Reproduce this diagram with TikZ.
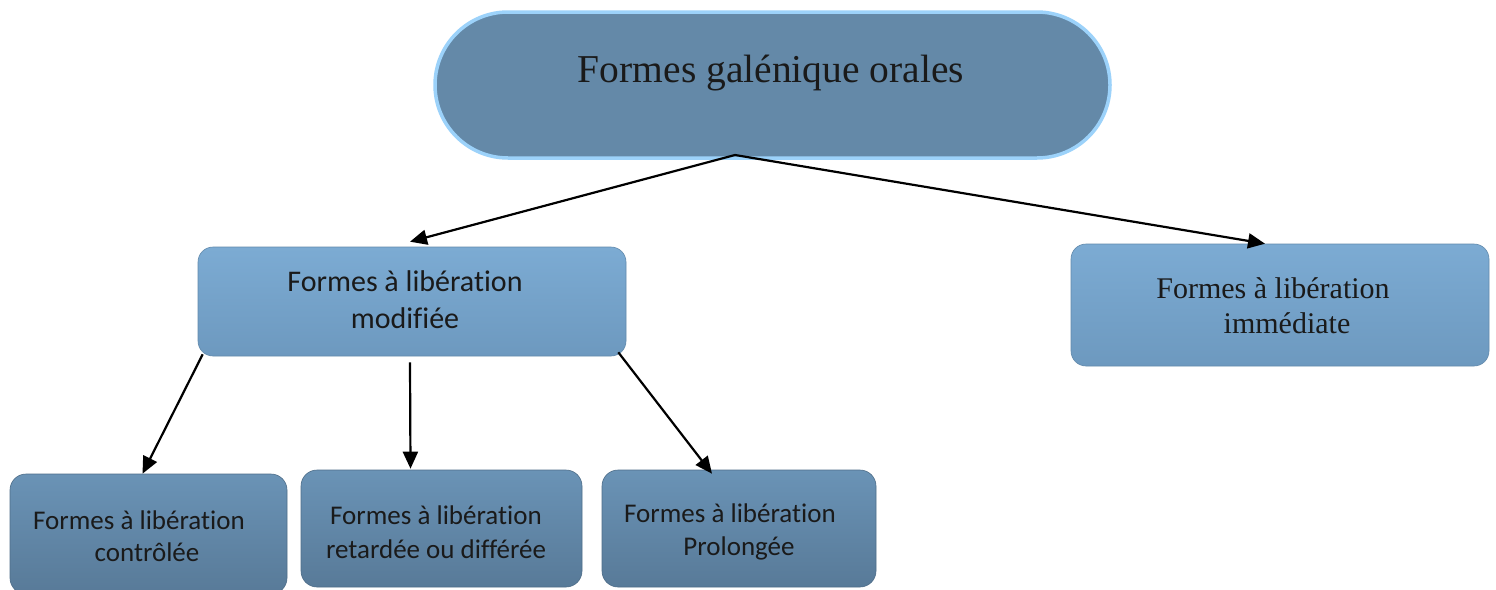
\documentclass[tikz,border=0pt]{standalone}
\usepackage{fontspec}
\setmainfont{Liberation Serif}
\newfontfamily\calfont[Ligatures=NoCommon]{Carlito}
\usetikzlibrary{arrows.meta}
\definecolor{topfill}{HTML}{6489A8}
\definecolor{topborder}{HTML}{9CD2FA}
\definecolor{midtop}{HTML}{7CABD3}
\definecolor{midbot}{HTML}{6D99BF}
\definecolor{lowtop}{HTML}{6A93B6}
\definecolor{lowbot}{HTML}{587A98}
\definecolor{txt}{HTML}{1A1A1A}
\tikzset{
  midbox/.style={rectangle, rounded corners=15pt, inner sep=0pt, top color=midtop, bottom color=midbot, draw=midbot!90!black, line width=0.6pt},
  lowbox/.style={rectangle, rounded corners=16pt, inner sep=0pt, top color=lowtop, bottom color=lowbot, draw=lowbot!90!black, line width=0.6pt},
  caltext/.style={align=center, inner sep=0pt, text=txt},
  conn/.style={line width=2.2pt, -{Triangle[length=17pt,width=15pt]}}
}
\begin{document}
\begin{tikzpicture}[x=1pt,y=-1pt]
\useasboundingbox[fill=white] (0,0) rectangle (1496,589);
% top stadium
\node[rectangle, rounded corners=73pt, minimum width=675pt, minimum height=146pt, fill=topfill, draw=topborder, line width=3.5pt] (top) at (772.5,85) {};
\node[inner sep=0pt, text=txt, font=\fontsize{39.5}{46}\selectfont] (toptext) at (771,73) {Formes galénique orales};
% middle boxes
\node[midbox, minimum width=428pt, minimum height=109pt] (mod) at (412,301.5) {};
\node[caltext, font=\calfont\fontsize{30}{37}\selectfont] (modtext) at (405,300) {Formes à libération\\modifiée};
\node[midbox, minimum width=418pt, minimum height=122pt] (imm) at (1280,305) {};
\node[caltext, font=\fontsize{30}{35}\selectfont] (immtext) at (1273,306) {Formes à libération\\\hspace*{28pt}immédiate};
% bottom boxes
\node[lowbox, minimum width=277pt, minimum height=120pt] (ctl) at (148.5,534) {};
\node[caltext, font=\calfont\fontsize{27}{32}\selectfont] (ctltext) at (139,536) {Formes à libération\\\hspace*{16pt}contrôlée};
\node[lowbox, minimum width=281pt, minimum height=117pt] (ret) at (441.5,528.5) {};
\node[caltext, font=\calfont\fontsize{27}{34}\selectfont] (rettext) at (436,532) {Formes à libération\\retardée ou différée};
\node[lowbox, minimum width=274pt, minimum height=117pt] (pro) at (739,528.5) {};
\node[caltext, font=\calfont\fontsize{27}{33}\selectfont] (protext) at (730,532) {Formes à libération\\\hspace*{18pt}Prolongée};
% connectors
\coordinate (split) at (735,155);
\draw[conn] (split) -- ([xshift=-2pt,yshift=5pt]mod.north);
\draw[conn] (split) -- ([xshift=-15pt]imm.north);
\draw[conn] ([xshift=5pt,yshift=2pt]mod.south west) -- ([xshift=-6pt]ctl.north);
\draw[conn] ([xshift=-2pt,yshift=-6pt]mod.south) -- ([xshift=-31pt,yshift=1pt]ret.north);
\draw[conn] ([xshift=-8pt,yshift=4pt]mod.south east) -- ([xshift=-27pt,yshift=-4pt]pro.north);
\end{tikzpicture}
\end{document}
